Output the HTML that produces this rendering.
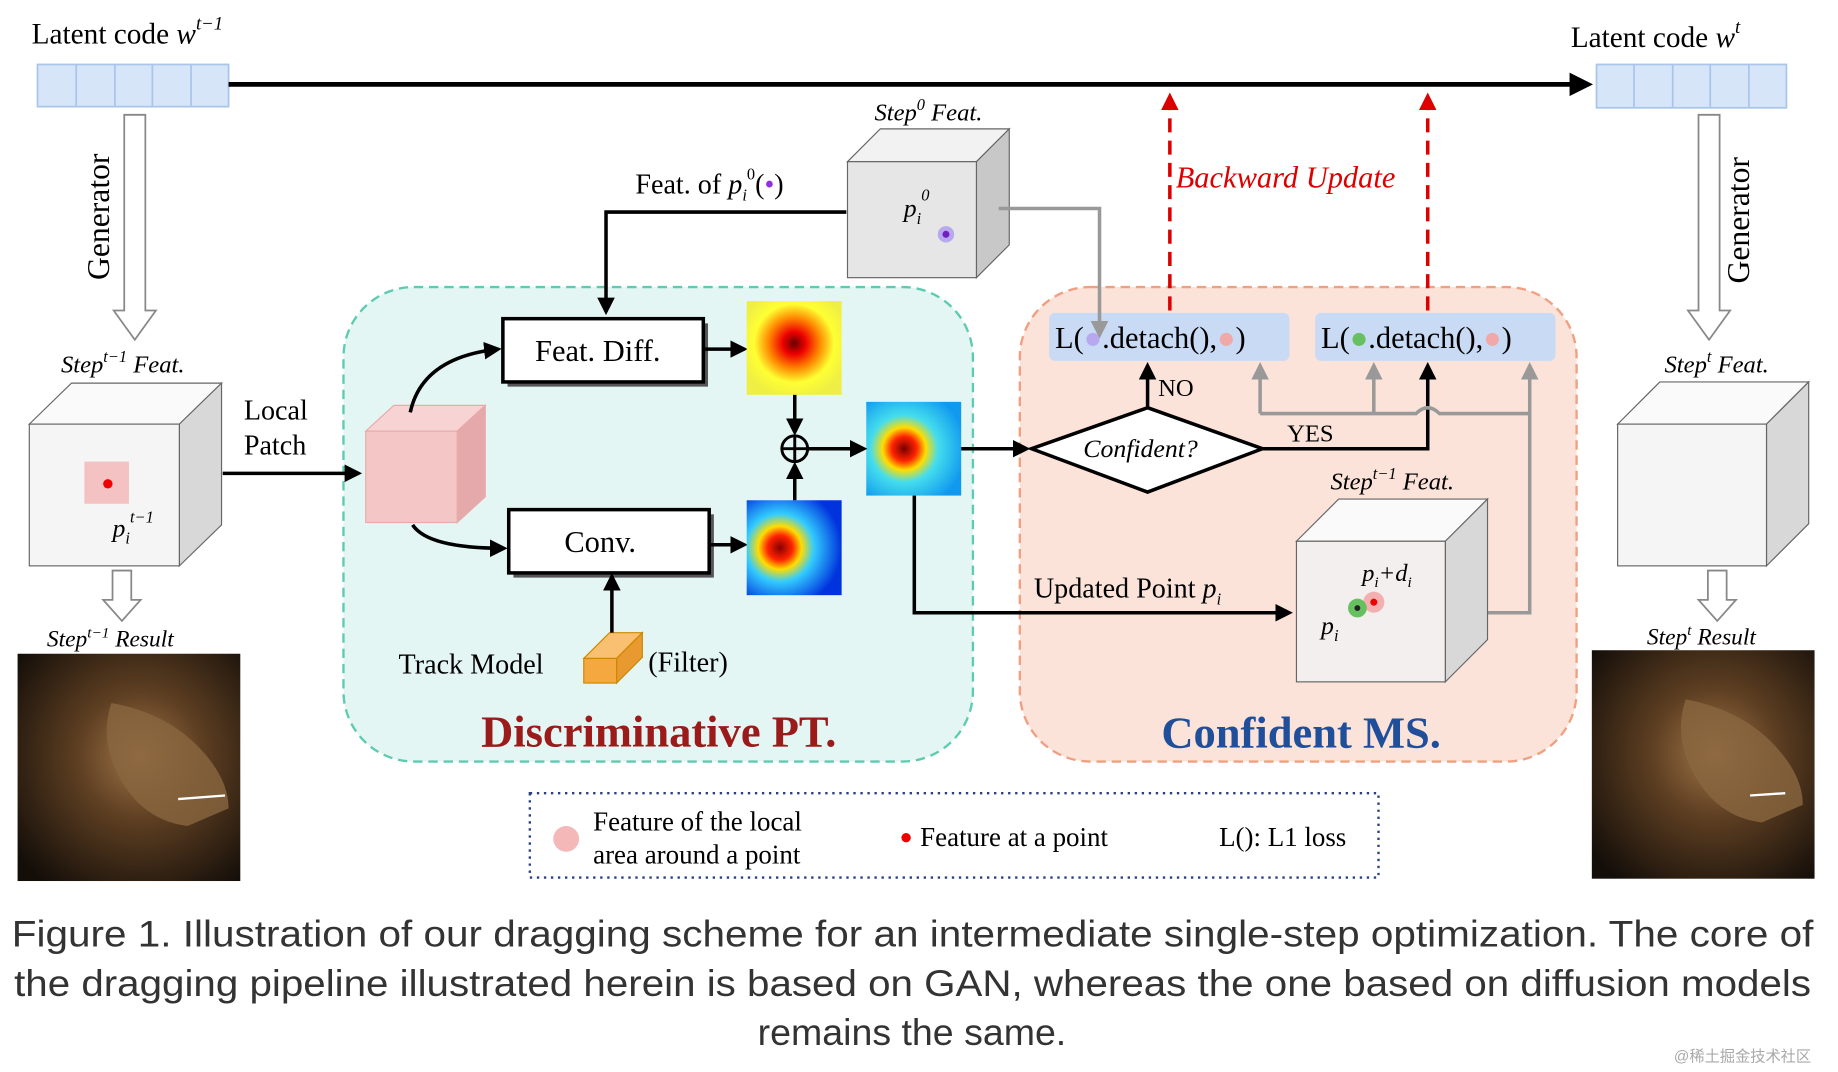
<!DOCTYPE html>
<html><head><meta charset="utf-8"><style>
html,body{margin:0;padding:0;background:#fff;}
svg{display:block}
.s{font-family:"Liberation Serif",serif;}
.i{font-style:italic}
</style></head><body>
<svg width="1838" height="1072" viewBox="0 0 1568 915" preserveAspectRatio="none" xmlns="http://www.w3.org/2000/svg" class="s">
<defs>
<marker id="a" viewBox="0 0 10 10" refX="8" refY="5" markerWidth="5" markerHeight="5" orient="auto"><path d="M0,0 L10,5 L0,10 z" fill="#000"/></marker>
<marker id="ag" viewBox="0 0 10 10" refX="8" refY="5" markerWidth="5" markerHeight="5" orient="auto"><path d="M0,0 L10,5 L0,10 z" fill="#999"/></marker>
<marker id="ar" viewBox="0 0 10 10" refX="8" refY="5" markerWidth="5" markerHeight="5" orient="auto"><path d="M0,0 L10,5 L0,10 z" fill="#d00"/></marker>
<radialGradient id="h1" cx="0.5" cy="0.45" r="0.6"><stop offset="0" stop-color="#600"/><stop offset="0.2" stop-color="#e00"/><stop offset="0.45" stop-color="#f80"/><stop offset="0.7" stop-color="#ff3"/><stop offset="1" stop-color="#ee4"/></radialGradient>
<radialGradient id="h2" cx="0.35" cy="0.5" r="0.65"><stop offset="0" stop-color="#800"/><stop offset="0.2" stop-color="#f20"/><stop offset="0.35" stop-color="#fd0"/><stop offset="0.55" stop-color="#3cf"/><stop offset="1" stop-color="#03d"/></radialGradient>
<radialGradient id="h3" cx="0.4" cy="0.5" r="0.65"><stop offset="0" stop-color="#700"/><stop offset="0.2" stop-color="#f20"/><stop offset="0.35" stop-color="#fd0"/><stop offset="0.55" stop-color="#4de"/><stop offset="1" stop-color="#19e"/></radialGradient>
<radialGradient id="lion" cx="0.55" cy="0.45" r="0.7"><stop offset="0" stop-color="#a07548"/><stop offset="0.4" stop-color="#5e3f22"/><stop offset="1" stop-color="#140e09"/></radialGradient>
</defs>

<!-- regions first -->
<rect x="293" y="245" width="537" height="405" rx="60" fill="#e3f6f3" stroke="#5ccbb0" stroke-width="2" stroke-dasharray="8,5"/>
<rect x="870" y="245" width="475" height="405" rx="60" fill="#fbe3d9" stroke="#f0a080" stroke-width="2" stroke-dasharray="8,5"/>

<!-- top latent -->
<text x="27" y="37" font-size="25">Latent code <tspan class="i">w</tspan><tspan font-size="16" dy="-12" class="i">t−1</tspan></text>
<text x="1340" y="40" font-size="25">Latent code <tspan class="i">w</tspan><tspan font-size="16" dy="-12" class="i">t</tspan></text>
<g fill="#d6e6f8" stroke="#a9c6ea" stroke-width="1.5">
<rect x="32" y="55" width="163" height="36"/><line x1="65" y1="55" x2="65" y2="91"/><line x1="98" y1="55" x2="98" y2="91"/><line x1="130" y1="55" x2="130" y2="91"/><line x1="163" y1="55" x2="163" y2="91"/>
<rect x="1362" y="55" width="162" height="37"/><line x1="1394" y1="55" x2="1394" y2="92"/><line x1="1427" y1="55" x2="1427" y2="92"/><line x1="1459" y1="55" x2="1459" y2="92"/><line x1="1492" y1="55" x2="1492" y2="92"/>
</g>
<line x1="195" y1="72" x2="1355" y2="72" stroke="#000" stroke-width="4" marker-end="url(#a)"/>

<!-- generator arrows -->
<path d="M106,98 H124 V265 H133 L115,290 L97,265 H106 Z" fill="#fff" stroke="#888" stroke-width="1.5"/>
<text transform="translate(93,185) rotate(-90)" font-size="27" text-anchor="middle">Generator</text>
<path d="M1449,98 H1467 V265 H1476 L1458,290 L1440,265 H1449 Z" fill="#fff" stroke="#888" stroke-width="1.5"/>
<text transform="translate(1492,188) rotate(-90)" font-size="27" text-anchor="middle">Generator</text>

<!-- left cube -->
<text x="52" y="318" font-size="21" class="i">Step<tspan font-size="14" dy="-9">t−1</tspan><tspan dy="9"> Feat.</tspan></text>
<polygon points="25,362 61,327 189,327 153,362" fill="#fafafa" stroke="#666"/>
<polygon points="153,362 189,327 189,448 153,483" fill="#d8d8d8" stroke="#666"/>
<rect x="25" y="362" width="128" height="121" fill="#f5f5f5" stroke="#666"/>
<rect x="72" y="394" width="38" height="36" fill="#f4c2c2"/>
<circle cx="92" cy="413" r="4" fill="#e00"/>
<text x="96" y="458" font-size="22" class="i">p<tspan font-size="14" dy="6">i</tspan><tspan font-size="14" dy="-18">t−1</tspan></text>
<path d="M96,487 H112 V512 H120 L104,530 L88,512 H96 Z" fill="#fff" stroke="#888" stroke-width="1.5"/>
<text x="40" y="552" font-size="20" class="i">Step<tspan font-size="13" dy="-8">t−1</tspan><tspan dy="8"> Result</tspan></text>
<rect x="15" y="558" width="190" height="194" fill="url(#lion)"/>
<path d="M95,600 Q150,610 180,650 Q195,670 195,690 L160,705 Q120,700 100,660 Q85,630 95,600 Z" fill="#8a6640" opacity="0.8"/>
<line x1="152" y1="682" x2="192" y2="679" stroke="#fff" stroke-width="2"/>

<text x="208" y="358" font-size="24">Local</text>
<text x="208" y="388" font-size="24">Patch</text>
<line x1="190" y1="404" x2="306" y2="404" stroke="#000" stroke-width="3" marker-end="url(#a)"/>

<!-- teal contents -->
<polygon points="312,368 336,346 414,346 390,368" fill="#f7d3d3" stroke="#e8aaaa"/>
<polygon points="390,368 414,346 414,424 390,446" fill="#e6a9ab" stroke="#e8aaaa"/>
<rect x="312" y="368" width="78" height="78" fill="#f4c6c6" stroke="#e8aaaa"/>
<path d="M350,352 Q360,305 425,298" fill="none" stroke="#000" stroke-width="3" marker-end="url(#a)"/>
<path d="M352,448 Q365,468 430,468" fill="none" stroke="#000" stroke-width="3" marker-end="url(#a)"/>
<rect x="433" y="276" width="171" height="54" fill="#555"/>
<rect x="429" y="272" width="171" height="54" fill="#fff" stroke="#000" stroke-width="3"/>
<text x="510" y="308" font-size="26" text-anchor="middle">Feat. Diff.</text>
<rect x="438" y="439" width="171" height="54" fill="#555"/>
<rect x="434" y="435" width="171" height="54" fill="#fff" stroke="#000" stroke-width="3"/>
<text x="512" y="471" font-size="26" text-anchor="middle">Conv.</text>
<line x1="600" y1="298" x2="635" y2="298" stroke="#000" stroke-width="3" marker-end="url(#a)"/>
<line x1="605" y1="465" x2="635" y2="465" stroke="#000" stroke-width="3" marker-end="url(#a)"/>
<rect x="637" y="257" width="81" height="80" fill="url(#h1)"/>
<rect x="637" y="427" width="81" height="81" fill="url(#h2)"/>
<rect x="739" y="343" width="81" height="80" fill="url(#h3)"/>
<circle cx="678" cy="383" r="11" fill="none" stroke="#000" stroke-width="2.5"/>
<line x1="667" y1="383" x2="689" y2="383" stroke="#000" stroke-width="2.5"/><line x1="678" y1="372" x2="678" y2="394" stroke="#000" stroke-width="2.5"/>
<line x1="678" y1="337" x2="678" y2="369" stroke="#000" stroke-width="3" marker-end="url(#a)"/>
<line x1="678" y1="427" x2="678" y2="397" stroke="#000" stroke-width="3" marker-end="url(#a)"/>
<line x1="689" y1="383" x2="737" y2="383" stroke="#000" stroke-width="3" marker-end="url(#a)"/>
<text x="340" y="575" font-size="24">Track Model</text>
<polygon points="498,562 520,540 548,540 526,562" fill="#f8c070" stroke="#c80"/>
<polygon points="526,562 548,540 548,561 526,583" fill="#e89a30" stroke="#c80"/>
<rect x="498" y="562" width="28" height="21" fill="#f5a840" stroke="#c80"/>
<text x="553" y="573" font-size="24">(Filter)</text>
<line x1="522" y1="540" x2="522" y2="492" stroke="#000" stroke-width="3" marker-end="url(#a)"/>
<text x="562" y="637" font-size="38" font-weight="bold" fill="#9b1b1b" text-anchor="middle">Discriminative PT.</text>

<!-- step0 -->
<text x="542" y="165" font-size="24">Feat. of <tspan class="i">p</tspan><tspan font-size="14" dy="6" class="i">i</tspan><tspan font-size="14" dy="-18">0</tspan><tspan dy="12">(</tspan><tspan fill="#9030e0">•</tspan>)</text>
<polyline points="722,181 517,181 517,266" fill="none" stroke="#000" stroke-width="3" marker-end="url(#a)"/>
<text x="746" y="103" font-size="21" class="i">Step<tspan font-size="14" dy="-9">0</tspan><tspan dy="9"> Feat.</tspan></text>
<polygon points="723,138 751,110 861,110 833,138" fill="#f2f2f2" stroke="#666"/>
<polygon points="833,138 861,110 861,209 833,237" fill="#c8c8c8" stroke="#666"/>
<rect x="723" y="138" width="110" height="99" fill="#e6e6e6" stroke="#666"/>
<text x="771" y="185" font-size="22" class="i">p<tspan font-size="14" dy="6">i</tspan><tspan font-size="14" dy="-20">0</tspan></text>
<circle cx="807" cy="200" r="7" fill="#b8a8ef"/><circle cx="807" cy="200" r="3" fill="#7020c0"/>

<!-- orange contents -->
<line x1="998" y1="265" x2="998" y2="82" stroke="#d00" stroke-width="3" stroke-dasharray="12,7" marker-end="url(#ar)"/>
<line x1="1218" y1="265" x2="1218" y2="82" stroke="#d00" stroke-width="3" stroke-dasharray="12,7" marker-end="url(#ar)"/>
<text x="1003" y="160" font-size="26" class="i" fill="#d00">Backward Update</text>
<rect x="895" y="267" width="205" height="41" rx="5" fill="#c9daf4"/>
<rect x="1122" y="267" width="205" height="41" rx="5" fill="#c9daf4"/>
<polyline points="852,178 938,178 938,286" fill="none" stroke="#999" stroke-width="3" marker-end="url(#ag)"/>
<text x="900" y="297" font-size="26">L(<tspan fill="#b8a8ef">●</tspan>.detach(),<tspan fill="#f0a8a8">●</tspan>)</text>
<text x="1127" y="297" font-size="26">L(<tspan fill="#66c060">●</tspan>.detach(),<tspan fill="#f0a8a8">●</tspan>)</text>
<polygon points="979,348 1077,383 979,420 880,383" fill="#fff" stroke="#000" stroke-width="3"/>
<text x="973" y="390" font-size="22" class="i" text-anchor="middle">Confident?</text>
<line x1="820" y1="383" x2="876" y2="383" stroke="#000" stroke-width="3" marker-end="url(#a)"/>
<line x1="979" y1="348" x2="979" y2="312" stroke="#000" stroke-width="3" marker-end="url(#a)"/>
<text x="988" y="338" font-size="21">NO</text>
<polyline points="1077,383 1218,383 1218,312" fill="none" stroke="#000" stroke-width="3" marker-end="url(#a)"/>
<text x="1098" y="377" font-size="21">YES</text>
<path d="M1075,353 H1208 Q1218,343 1228,353 H1305" fill="none" stroke="#999" stroke-width="3"/>
<line x1="1075" y1="353" x2="1075" y2="312" stroke="#999" stroke-width="3" marker-end="url(#ag)"/>
<line x1="1172" y1="353" x2="1172" y2="312" stroke="#999" stroke-width="3" marker-end="url(#ag)"/>
<polyline points="1255,523 1305,523 1305,312" fill="none" stroke="#999" stroke-width="3" marker-end="url(#ag)"/>
<polyline points="780,423 780,523 1100,523" fill="none" stroke="#000" stroke-width="3" marker-end="url(#a)"/>
<text x="882" y="510" font-size="24">Updated Point <tspan class="i">p</tspan><tspan font-size="14" dy="6" class="i">i</tspan></text>
<text x="1135" y="418" font-size="21" class="i">Step<tspan font-size="14" dy="-9">t−1</tspan><tspan dy="9"> Feat.</tspan></text>
<polygon points="1106,462 1142,426 1269,426 1233,462" fill="#fafafa" stroke="#666"/>
<polygon points="1233,462 1269,426 1269,546 1233,582" fill="#d8d8d8" stroke="#666"/>
<rect x="1106" y="462" width="127" height="120" fill="#f2efee" stroke="#666"/>
<text x="1162" y="496" font-size="21" class="i">p<tspan font-size="13" dy="5">i</tspan><tspan dy="-5">+d</tspan><tspan font-size="13" dy="5">i</tspan></text>
<text x="1127" y="541" font-size="22" class="i">p<tspan font-size="14" dy="6">i</tspan></text>
<circle cx="1172" cy="514" r="9" fill="#f4b0b0"/><circle cx="1158" cy="519" r="8" fill="#66c060"/>
<circle cx="1158" cy="519" r="2.5" fill="#222"/><circle cx="1172" cy="514" r="3" fill="#e00"/>
<text x="1110" y="638" font-size="38" font-weight="bold" fill="#1f4f9a" text-anchor="middle">Confident MS.</text>

<!-- right cube -->
<text x="1420" y="318" font-size="21" class="i">Step<tspan font-size="14" dy="-9">t</tspan><tspan dy="9"> Feat.</tspan></text>
<polygon points="1380,362 1416,326 1543,326 1507,362" fill="#fafafa" stroke="#666"/>
<polygon points="1507,362 1543,326 1543,447 1507,483" fill="#d8d8d8" stroke="#666"/>
<rect x="1380" y="362" width="127" height="121" fill="#f5f5f5" stroke="#666"/>
<path d="M1457,487 H1473 V512 H1481 L1465,530 L1449,512 H1457 Z" fill="#fff" stroke="#888" stroke-width="1.5"/>
<text x="1405" y="550" font-size="20" class="i">Step<tspan font-size="13" dy="-8">t</tspan><tspan dy="8"> Result</tspan></text>
<rect x="1358" y="555" width="190" height="195" fill="url(#lion)"/>
<path d="M1438,597 Q1493,607 1523,647 Q1538,667 1538,687 L1503,702 Q1463,697 1443,657 Q1428,627 1438,597 Z" fill="#8a6640" opacity="0.8"/>
<line x1="1493" y1="679" x2="1523" y2="677" stroke="#fff" stroke-width="2"/>

<!-- legend -->
<rect x="452" y="677" width="724" height="72" fill="#fff" stroke="#2a3f80" stroke-width="2" stroke-dasharray="2,4"/>
<circle cx="483" cy="716" r="11" fill="#f4b8b8"/>
<text x="506" y="709" font-size="23">Feature of the local</text>
<text x="506" y="737" font-size="23">area around a point</text>
<circle cx="773" cy="715" r="4" fill="#e00"/>
<text x="785" y="722" font-size="23">Feature at a point</text>
<text x="1040" y="722" font-size="23">L(): L1 loss</text>

<!-- caption -->
<g font-family="Liberation Sans, sans-serif" font-size="32" fill="#333">
<text x="10" y="808" textLength="1537" lengthAdjust="spacingAndGlyphs">Figure 1. Illustration of our dragging scheme for an intermediate single-step optimization. The core of</text>
<text x="12" y="850" textLength="1533" lengthAdjust="spacingAndGlyphs">the dragging pipeline illustrated herein is based on GAN, whereas the one based on diffusion models</text>
<text x="778" y="892" text-anchor="middle">remains the same.</text>
</g>
<text x="1428" y="906" font-size="13" fill="#aaa" font-family="Liberation Sans, Noto Sans CJK SC, sans-serif">@稀土掘金技术社区</text>
</svg>
</body></html>
